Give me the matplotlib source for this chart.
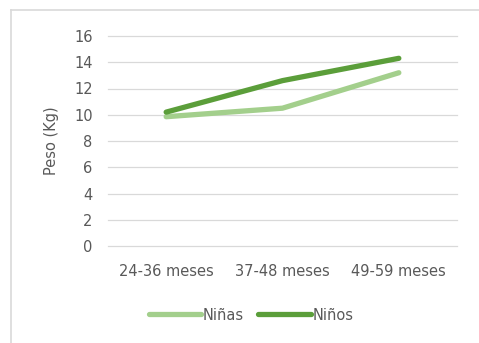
import matplotlib
matplotlib.use("Agg")
import matplotlib.pyplot as plt
from matplotlib.lines import Line2D

categories = ["24-36 meses", "37-48 meses", "49-59 meses"]
ninas = [9.85, 10.5, 13.2]
ninos = [10.2, 12.6, 14.3]
yticks = [0, 2, 4, 6, 8, 10, 12, 14, 16]

W, H = 479, 343
fig = plt.figure(figsize=(W / 100, H / 100), dpi=100)
fig.patch.set_facecolor("white")

# outer chart frame (left and top edges)
frame_kw = dict(transform=fig.transFigure, color="#d9d9d9", linewidth=1.2)
fig.lines.append(Line2D([11 / W, 11 / W], [0, 1 - 10 / H], **frame_kw))
fig.lines.append(Line2D([11 / W, 1], [1 - 10 / H, 1 - 10 / H], **frame_kw))

ax = fig.add_axes([108 / W, 1 - 246 / H, (457 - 108) / W, (246 - 36) / H])
x = list(range(len(categories)))
ax.plot(x, ninas, color="#a3cf8c", linewidth=3.8, solid_capstyle="round", label="Niñas")
ax.plot(x, ninos, color="#5b9e3a", linewidth=3.8, solid_capstyle="round", label="Niños")

ax.set_xlim(-0.5, 2.5)
ax.set_ylim(0, 16)
ax.set_yticks(yticks)
ax.set_xticks(x)
ax.set_xticklabels(categories)
for yv in yticks:
    ax.axhline(yv, color="#d9d9d9", linewidth=0.9, zorder=0, clip_on=False)
for s in ax.spines.values():
    s.set_visible(False)
ax.tick_params(length=0, colors="#595959", labelsize=10.5)
ax.tick_params(axis="x", pad=13)
ax.tick_params(axis="y", pad=11)
for lbl in ax.get_xticklabels() + ax.get_yticklabels():
    lbl.set_color("#595959")
ax.set_ylabel("Peso (Kg)", color="#595959", fontsize=10.5, labelpad=11)

handles, labels = ax.get_legend_handles_labels()
leg = fig.legend(handles, labels, loc="center", bbox_to_anchor=(251 / W, 1 - 315 / H),
                 ncol=2, frameon=False, fontsize=10.5, handlelength=3.6,
                 handletextpad=0.1, columnspacing=1.0)
for t in leg.get_texts():
    t.set_color("#595959")

fig.savefig("out.png", dpi=100)
